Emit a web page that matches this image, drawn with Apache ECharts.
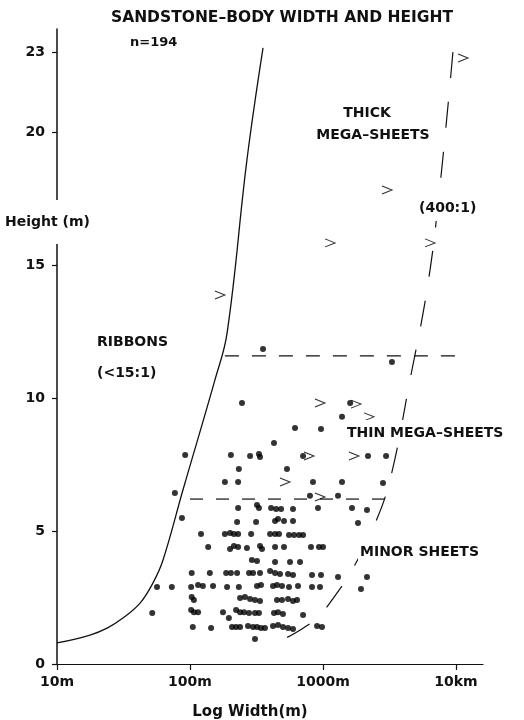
<!DOCTYPE html>
<html>
<head>
<meta charset="utf-8">
<script src="https://cdn.jsdelivr.net/npm/echarts@6/dist/echarts.min.js"></script>
<style>
  html, body { margin: 0; padding: 0; background: #fff; }
  #chart { width: 524px; height: 720px; }
</style>
</head>
<body>
<div id="chart"></div>
<script>
// Axis ticks and labels
const xTicks = [10, 100, 1000, 10000];
const xTickLabels = ['10m', '100m', '1000m', '10km'];
const yTicks = [0, 5, 10, 15, 20, 23];

// Sandstone bodies: [width (m), height (m)]
const bodies = [
  [354, 11.84], [3300, 11.35],
  [246, 9.81], [1600, 9.81], [1390, 9.29], [616, 8.87], [966, 8.83], [428, 8.31],
  [92, 7.86], [203, 7.86], [283, 7.82], [330, 7.89], [336, 7.78], [708, 7.82], [2180, 7.82], [2980, 7.82],
  [233, 7.33], [536, 7.33],
  [183, 6.84], [230, 6.84], [841, 6.84], [1390, 6.84], [2825, 6.80],
  [77, 6.43], [798, 6.32], [1297, 6.32],
  [230, 5.86], [319, 5.98], [330, 5.86], [407, 5.86], [444, 5.83], [484, 5.83], [595, 5.83], [917, 5.86], [1652, 5.86], [2141, 5.79],
  [87, 5.49],
  [226, 5.34], [314, 5.34], [436, 5.38], [459, 5.45], [509, 5.38], [595, 5.38], [1833, 5.30],
  [121, 4.89], [183, 4.89], [200, 4.92], [214, 4.89], [230, 4.89], [288, 4.89], [400, 4.89], [436, 4.89], [467, 4.89],
  [555, 4.85], [605, 4.85], [660, 4.85], [708, 4.85],
  [137, 4.40], [200, 4.32], [214, 4.44], [230, 4.40], [268, 4.36], [336, 4.44], [348, 4.32], [436, 4.40], [509, 4.40],
  [812, 4.40], [933, 4.40], [1000, 4.40],
  [292, 3.91], [319, 3.87], [436, 3.83], [565, 3.83], [672, 3.83],
  [103, 3.42], [141, 3.42], [187, 3.42], [203, 3.42], [226, 3.42], [278, 3.42], [298, 3.42], [336, 3.42], [400, 3.50],
  [436, 3.42], [475, 3.38], [546, 3.38], [595, 3.35], [827, 3.35], [966, 3.35], [1297, 3.27], [2141, 3.27],
  [56.5, 2.89], [73, 2.89], [102, 2.89], [115, 2.97], [125, 2.93], [149, 2.93], [190, 2.89], [233, 2.89], [319, 2.93],
  [342, 2.97], [421, 2.93], [451, 2.97], [492, 2.93], [555, 2.89], [649, 2.93], [827, 2.89], [949, 2.89], [1930, 2.82],
  [103, 2.52], [107, 2.41], [238, 2.48], [259, 2.52], [283, 2.44], [308, 2.41], [336, 2.37], [451, 2.41], [492, 2.41],
  [546, 2.44], [595, 2.37], [638, 2.41],
  [52, 1.92], [102, 2.03], [107, 1.95], [115, 1.95], [177, 1.95], [196, 1.73], [222, 2.03], [238, 1.95], [255, 1.95],
  [278, 1.92], [308, 1.92], [330, 1.92], [428, 1.92], [459, 1.95], [500, 1.88], [708, 1.84],
  [105, 1.39], [144, 1.35], [207, 1.39], [222, 1.39], [238, 1.39], [273, 1.43], [298, 1.39], [319, 1.39], [342, 1.35],
  [366, 1.35], [421, 1.43], [459, 1.47], [500, 1.39], [546, 1.35], [595, 1.32], [902, 1.43], [983, 1.39],
  [308, 0.94]
];

// Minimum widths (body wider than exposure): [width (m), height (m)]
const minWidths = [
  [11300, 22.78], [3030, 17.82], [1130, 15.83], [6380, 15.83], [168, 13.87],
  [949, 9.81], [1771, 9.77], [2217, 9.29], [785, 7.82], [1710, 7.82], [518, 6.84], [949, 6.28]
];

// Ribbon limit, width:height = 15:1
const ribbonLimit = [
  [10, 0.79], [17.7, 1.09], [23.8, 1.35], [31.3, 1.73], [42.1, 2.29], [52.7, 3.05], [62.7, 3.91],
  [88.5, 6.54], [154, 10.68], [190, 12.44], [268, 18.95], [354, 23.16]
];

// Mega-sheet limit, width:height = 400:1
const sheetLimit = [
  [9480, 23.0], [7590, 18.0], [6160, 14.3], [4510, 10.68], [3190, 6.92], [2380, 5.11],
  [1650, 3.53], [1170, 2.41], [916, 1.77], [695, 1.32], [475, 0.86]
];

// Thick / thin mega-sheet and thin mega-sheet / minor sheet boundaries
const thickThinBoundary = [[183, 11.58], [9820, 11.58]];
const thinMinorBoundary = [[100, 6.2], [3190, 6.2]];

const FONT = '"DejaVu Sans", sans-serif';
const INK = '#111';

function label(text, x, y, size, opts) {
  opts = opts || {};
  return {
    type: 'text',
    x: x, y: y, z: 100,
    style: {
      text: text,
      fill: INK,
      font: 'bold ' + size + 'px ' + FONT,
      align: opts.align || 'left',
      verticalAlign: 'middle',
      backgroundColor: opts.bg ? '#fff' : undefined,
      padding: opts.pad || 0
    }
  };
}

const chart = echarts.init(document.getElementById('chart'), null, { renderer: 'canvas' });

chart.setOption({
  backgroundColor: '#fff',
  animation: false,
  grid: { left: 57, right: 41, top: 29, bottom: 56, containLabel: false },
  xAxis: {
    type: 'log',
    logBase: 10,
    min: 10,
    max: 15960,
    axisLine: { show: true, lineStyle: { color: INK, width: 1.2 } },
    axisTick: { show: true, length: 6, customValues: xTicks, lineStyle: { color: INK, width: 1.2 } },
    axisLabel: {
      customValues: xTicks,
      margin: 11,
      color: INK,
      fontFamily: FONT,
      fontWeight: 'bold',
      fontSize: 14,
      formatter: function (v) {
        const i = xTicks.indexOf(Math.round(v));
        return i >= 0 ? xTickLabels[i] : '';
      }
    },
    splitLine: { show: false },
    minorTick: { show: false }
  },
  yAxis: {
    type: 'value',
    min: 0,
    max: 23.87,
    axisLine: { show: true, lineStyle: { color: INK, width: 1.5 } },
    axisTick: { show: true, length: 5, customValues: yTicks, lineStyle: { color: INK, width: 1.2 } },
    axisLabel: {
      customValues: yTicks,
      margin: 12,
      color: INK,
      fontFamily: FONT,
      fontWeight: 'bold',
      fontSize: 14
    },
    splitLine: { show: false }
  },
  graphic: [
    label('SANDSTONE\u2013BODY WIDTH AND HEIGHT', 282, 18, 15.5, { align: 'center' }),
    label('n=194', 130, 43, 13),
    label('THICK', 367, 113, 14, { align: 'center' }),
    label('MEGA\u2013SHEETS', 373, 135, 14, { align: 'center' }),
    label('(400:1)', 417, 208, 14, { bg: true, pad: [6, 2] }),
    label('Height (m)', 3, 222, 14, { bg: true, pad: [15, 2] }),
    label('RIBBONS', 97, 342, 14),
    label('(<15:1)', 97, 373, 14),
    label('THIN MEGA\u2013SHEETS', 345, 433, 14, { bg: true, pad: [6, 2] }),
    label('MINOR SHEETS', 358, 552, 14, { bg: true, pad: [6, 2] }),
    label('Log Width(m)', 250, 712, 15, { align: 'center' })
  ],
  series: [
    {
      type: 'line',
      data: ribbonLimit,
      smooth: 0.4,
      symbol: 'none',
      lineStyle: { color: INK, width: 1.3 },
      z: 2
    },
    {
      type: 'line',
      data: sheetLimit,
      smooth: 0.4,
      symbol: 'none',
      lineStyle: { color: INK, width: 1.2, type: [26, 24] },
      z: 2
    },
    {
      type: 'line',
      data: thickThinBoundary,
      symbol: 'none',
      lineStyle: { color: INK, width: 1.2, type: [14, 13] },
      z: 2
    },
    {
      type: 'line',
      data: thinMinorBoundary,
      symbol: 'none',
      lineStyle: { color: INK, width: 1.2, type: [13, 13] },
      z: 2
    },
    {
      type: 'scatter',
      data: bodies,
      symbol: 'circle',
      symbolSize: 6,
      itemStyle: { color: '#000' },
      z: 3
    },
    {
      type: 'scatter',
      data: minWidths,
      symbol: 'path://M0,0L10,4L0,8',
      symbolSize: [10, 8],
      itemStyle: { color: 'rgba(0,0,0,0)', borderColor: '#000', borderWidth: 1.1 },
      z: 3
    }
  ]
});
</script>
</body>
</html>
